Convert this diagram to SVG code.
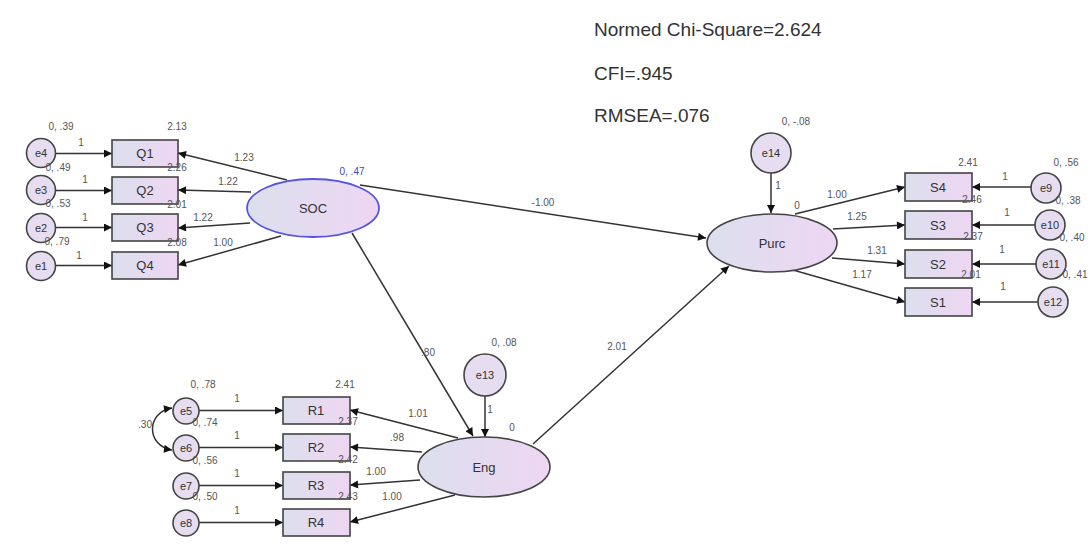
<svg xmlns="http://www.w3.org/2000/svg" width="1088" height="557" viewBox="0 0 1088 557">
<defs>
<linearGradient id="g" x1="0" y1="0" x2="1" y2="0">
<stop offset="0" stop-color="#dcdfee"/>
<stop offset="1" stop-color="#eed6f2"/>
</linearGradient>
<marker id="ah" viewBox="0 0 10 10" refX="10" refY="5" markerWidth="12" markerHeight="8" markerUnits="userSpaceOnUse" orient="auto-start-reverse">
<path d="M0,0 L10,5 L0,10 z" fill="#111"/>
</marker>
<style>
.box{fill:url(#g);stroke:#444;stroke-width:1.6}
.lat{fill:url(#g);stroke:#444;stroke-width:1.6}
.soc{fill:url(#g);stroke:#5555dd;stroke-width:1.8}
.err{fill:#e6ddf1;stroke:#444;stroke-width:1.6}
.ln{stroke:#333;stroke-width:1.5;fill:none;marker-end:url(#ah)}
.cov{stroke:#333;stroke-width:1.5;fill:none;marker-end:url(#ah);marker-start:url(#ah)}
text{font-family:"Liberation Sans",Arial,sans-serif}
.nl{font-size:13px;fill:#333;text-anchor:middle}
.el{font-size:11px;fill:#333;text-anchor:middle}
.sl{font-size:10px;fill:#555;text-anchor:middle}
.blue{fill:#4444cc}
.fit{font-size:19px;fill:#333}
</style>
</defs>
<rect width="1088" height="557" fill="#fff"/>

<g id="fit">
<text class="fit" x="594" y="36">Normed Chi-Square=2.624</text>
<text class="fit" x="594" y="80">CFI=.945</text>
<text class="fit" x="594" y="122">RMSEA=.076</text>
</g>

<g id="connectors">
<line class="ln" x1="55" y1="153.5" x2="112" y2="153.5"/>
<line class="ln" x1="55" y1="190.5" x2="112" y2="190.5"/>
<line class="ln" x1="55" y1="227.5" x2="112" y2="227.5"/>
<line class="ln" x1="55" y1="265.5" x2="112" y2="265.5"/>
<line class="ln" x1="287" y1="180" x2="178" y2="153"/>
<line class="ln" x1="251" y1="192" x2="178" y2="190"/>
<line class="ln" x1="250" y1="223" x2="178" y2="228"/>
<line class="ln" x1="281" y1="236" x2="178" y2="265"/>
<line class="ln" x1="360" y1="185" x2="706" y2="238"/>
<line class="ln" x1="352" y1="233" x2="473" y2="436"/>
<line class="ln" x1="485" y1="396" x2="485" y2="437"/>
<line class="ln" x1="533" y1="444" x2="729" y2="266"/>
<line class="ln" x1="458" y1="438" x2="350" y2="410"/>
<line class="ln" x1="422" y1="452" x2="350" y2="447"/>
<line class="ln" x1="420" y1="480" x2="350" y2="485"/>
<line class="ln" x1="455" y1="495" x2="350" y2="522"/>
<line class="ln" x1="199" y1="410.5" x2="283" y2="410.5"/>
<line class="ln" x1="199" y1="447.5" x2="283" y2="447.5"/>
<line class="ln" x1="199" y1="485.5" x2="283" y2="485.5"/>
<line class="ln" x1="199" y1="522.5" x2="283" y2="522.5"/>
<path class="cov" d="M172,408 C146,412 146,446 172,450"/>
<line class="ln" x1="771" y1="173" x2="771" y2="213"/>
<line class="ln" x1="795" y1="214" x2="905" y2="187"/>
<line class="ln" x1="833" y1="229" x2="905" y2="225"/>
<line class="ln" x1="832" y1="258" x2="905" y2="264"/>
<line class="ln" x1="793" y1="270" x2="905" y2="302"/>
<line class="ln" x1="1031" y1="187" x2="972" y2="187"/>
<line class="ln" x1="1035" y1="225" x2="972" y2="225"/>
<line class="ln" x1="1036" y1="264" x2="972" y2="264"/>
<line class="ln" x1="1038" y1="302" x2="972" y2="302"/>
<g id="path-labels">
<text class="sl" x="81" y="146">1</text>
<text class="sl" x="85" y="183">1</text>
<text class="sl" x="85" y="221">1</text>
<text class="sl" x="79" y="259">1</text>
<text class="sl" x="244" y="161">1.23</text>
<text class="sl" x="228" y="185">1.22</text>
<text class="sl" x="203" y="221">1.22</text>
<text class="sl" x="223" y="246">1.00</text>
<text class="sl" x="543" y="206">-1.00</text>
<text class="sl" x="428" y="356">.80</text>
<text class="sl" x="617" y="350">2.01</text>
<text class="sl" x="490" y="413">1</text>
<text class="sl" x="418" y="417">1.01</text>
<text class="sl" x="397" y="441">.98</text>
<text class="sl" x="376" y="475">1.00</text>
<text class="sl" x="392" y="500">1.00</text>
<text class="sl" x="237" y="402">1</text>
<text class="sl" x="237" y="439">1</text>
<text class="sl" x="237" y="477">1</text>
<text class="sl" x="237" y="514">1</text>
<text class="sl" x="145" y="428">.30</text>
<text class="sl" x="778" y="189">1</text>
<text class="sl" x="837" y="198">1.00</text>
<text class="sl" x="857" y="220">1.25</text>
<text class="sl" x="877" y="254">1.31</text>
<text class="sl" x="862" y="278">1.17</text>
<text class="sl" x="1005" y="180">1</text>
<text class="sl" x="1007" y="216">1</text>
<text class="sl" x="1002" y="253">1</text>
<text class="sl" x="1003" y="290">1</text>
</g>
</g>

<g id="Q1"><rect class="box" x="112" y="140" width="66" height="27"/><text class="nl" x="145" y="158">Q1</text><text class="sl" x="177" y="130">2.13</text></g>
<g id="Q2"><rect class="box" x="112" y="177" width="66" height="27"/><text class="nl" x="145" y="195">Q2</text><text class="sl" x="177" y="171">2.26</text></g>
<g id="Q3"><rect class="box" x="112" y="214" width="66" height="27"/><text class="nl" x="145" y="232">Q3</text><text class="sl" x="177" y="208">2.01</text></g>
<g id="Q4"><rect class="box" x="112" y="252" width="66" height="27"/><text class="nl" x="145" y="270">Q4</text><text class="sl" x="177" y="246">2.08</text></g>

<g id="e4"><circle class="err" cx="41" cy="153" r="14.5"/><text class="el" x="41" y="157">e4</text><text class="sl" x="61" y="130">0, .39</text></g>
<g id="e3"><circle class="err" cx="41" cy="190" r="14.5"/><text class="el" x="41" y="194">e3</text><text class="sl" x="58" y="171">0, .49</text></g>
<g id="e2"><circle class="err" cx="41" cy="228" r="14.5"/><text class="el" x="41" y="232">e2</text><text class="sl" x="58" y="207">0, .53</text></g>
<g id="e1"><circle class="err" cx="41" cy="266" r="14.5"/><text class="el" x="41" y="270">e1</text><text class="sl" x="57" y="245">0, .79</text></g>

<g id="SOC"><ellipse class="soc" cx="313" cy="208" rx="66" ry="29"/><text class="nl" x="313" y="213">SOC</text><text class="sl blue" x="352" y="175">0, .47</text></g>

<g id="Purc"><ellipse class="lat" cx="772" cy="243" rx="65" ry="29"/><text class="nl" x="772" y="248">Purc</text><text class="sl" x="797" y="209">0</text></g>
<g id="e14"><circle class="err" cx="771" cy="153" r="20"/><text class="el" x="771" y="157">e14</text><text class="sl" x="796" y="125">0, -.08</text></g>

<g id="S4"><rect class="box" x="905" y="173" width="67" height="28"/><text class="nl" x="938" y="192">S4</text><text class="sl" x="968" y="166">2.41</text></g>
<g id="S3"><rect class="box" x="905" y="211" width="67" height="28"/><text class="nl" x="938" y="230">S3</text><text class="sl" x="972" y="203">2.46</text></g>
<g id="S2"><rect class="box" x="905" y="250" width="67" height="28"/><text class="nl" x="938" y="269">S2</text><text class="sl" x="973" y="240">2.37</text></g>
<g id="S1"><rect class="box" x="905" y="288" width="67" height="28"/><text class="nl" x="938" y="307">S1</text><text class="sl" x="971" y="278">2.01</text></g>

<g id="e9"><circle class="err" cx="1046" cy="188" r="15"/><text class="el" x="1046" y="192">e9</text><text class="sl" x="1066" y="166">0, .56</text></g>
<g id="e10"><circle class="err" cx="1050" cy="225" r="15"/><text class="el" x="1050" y="229">e10</text><text class="sl" x="1068" y="204">0, .38</text></g>
<g id="e11"><circle class="err" cx="1051" cy="264" r="15"/><text class="el" x="1051" y="268">e11</text><text class="sl" x="1072" y="241">0, .40</text></g>
<g id="e12"><circle class="err" cx="1053" cy="302" r="15"/><text class="el" x="1053" y="306">e12</text><text class="sl" x="1075" y="278">0, .41</text></g>

<g id="Eng"><ellipse class="lat" cx="484" cy="467" rx="66" ry="30"/><text class="nl" x="484" y="472">Eng</text><text class="sl" x="512" y="431">0</text></g>
<g id="e13"><circle class="err" cx="485" cy="375" r="21"/><text class="el" x="485" y="379">e13</text><text class="sl" x="504" y="346">0, .08</text></g>

<g id="R1"><rect class="box" x="283" y="397" width="67" height="27"/><text class="nl" x="316" y="415">R1</text><text class="sl" x="345" y="388">2.41</text></g>
<g id="R2"><rect class="box" x="283" y="434" width="67" height="27"/><text class="nl" x="316" y="452">R2</text><text class="sl" x="348" y="425">2.37</text></g>
<g id="R3"><rect class="box" x="283" y="472" width="67" height="27"/><text class="nl" x="316" y="490">R3</text><text class="sl" x="348" y="463">2.42</text></g>
<g id="R4"><rect class="box" x="283" y="509" width="67" height="27"/><text class="nl" x="316" y="527">R4</text><text class="sl" x="348" y="500">2.43</text></g>

<g id="e5"><circle class="err" cx="186" cy="411" r="13"/><text class="el" x="186" y="415">e5</text><text class="sl" x="203" y="388">0, .78</text></g>
<g id="e6"><circle class="err" cx="186" cy="448" r="13"/><text class="el" x="186" y="452">e6</text><text class="sl" x="205" y="426">0, .74</text></g>
<g id="e7"><circle class="err" cx="186" cy="486" r="13"/><text class="el" x="186" y="490">e7</text><text class="sl" x="205" y="464">0, .56</text></g>
<g id="e8"><circle class="err" cx="186" cy="523" r="13"/><text class="el" x="186" y="527">e8</text><text class="sl" x="205" y="500">0, .50</text></g>
</svg>
